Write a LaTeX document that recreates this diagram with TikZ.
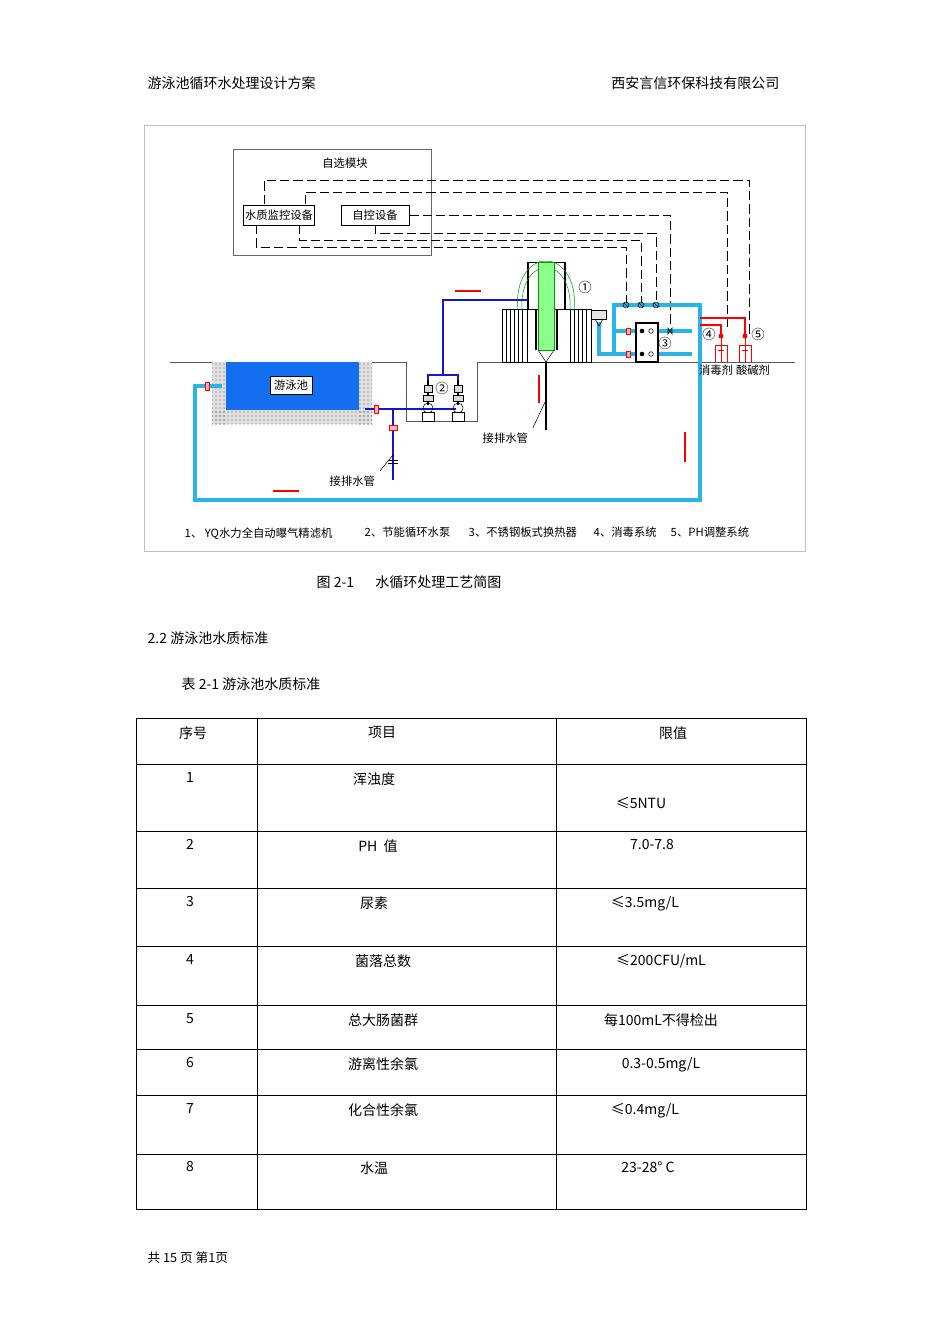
\documentclass[tikz,border=0pt]{standalone}
\usepackage{fontspec}
\setmainfont{Noto Sans CJK SC}
\usetikzlibrary{patterns}
\definecolor{cyanp}{RGB}{40,180,230}
\definecolor{navy}{RGB}{20,20,200}
\definecolor{pblue}{RGB}{20,110,240}
\begin{document}
\begin{tikzpicture}[x=0.75pt,y=-0.75pt,
  dsh/.style={dash pattern=on 7pt off 3pt, line width=0.6pt},
  cp/.style={cyanp, line width=2.6pt},
  np/.style={navy, line width=2pt},
  ra/.style={red, line width=0.8pt},
  sm/.style={font=\fontsize{8.5}{9}\selectfont},
  pg/.style={font=\fontsize{10.5}{12}\selectfont},
  tb/.style={font=\fontsize{10.5}{12}\selectfont, anchor=north}]
\useasboundingbox (0,0) rectangle (950,1344);
\fill[white] (0,0) rectangle (950,1344);
% header
\node[pg,anchor=west] (h1) at (143,83) {游泳池循环水处理设计方案};
\node[pg,anchor=east] (h2) at (784,83) {西安言信环保科技有限公司};
% frame
\draw[gray!50] (144,125) rectangle (805,551);
% control boxes
\draw[gray!80!black] (233,149) rectangle (431,255);
\node[sm] (zx) at (345,163) {自选模块};
\node[draw,sm,inner sep=1pt,minimum width=53pt,minimum height=15pt] (wq) at (279,215) {水质监控设备};
\node[draw,sm,inner sep=1pt,minimum width=51pt,minimum height=15pt] (zk) at (375,215) {自控设备};
% dashed control lines
\draw[dsh] (264,204) -- (264,180) -- (749,180) -- (749,335);
\draw[dsh] (305,204) -- (305,192) -- (727,192) -- (727,330);
\draw[dsh] (zk.east) -- (670,215) -- (670,327);
\draw[dsh] (375,225) -- (375,233) -- (656,233) -- (656,303);
\draw[dsh] (299,225) -- (299,240) -- (641,240) -- (641,303);
\draw[dsh] (256,225) -- (256,247) -- (626,247) -- (626,303);
% ground line and pit
\draw[gray!70!black,line width=0.7pt] (170,362) -- (406,362) -- (406,421) -- (477,421) -- (477,362) -- (795,362);
% pool
\fill[gray!25] (212,362) rectangle (226,424);
\fill[gray!25] (359,362) rectangle (372,424);
\fill[gray!25] (212,410) rectangle (372,424);
\fill[pattern=dots,pattern color=gray!70!black] (212,362) rectangle (226,424);
\fill[pattern=dots,pattern color=gray!70!black] (359,362) rectangle (372,424);
\fill[pattern=dots,pattern color=gray!70!black] (212,410) rectangle (372,424);
\fill[pblue] (226,362) rectangle (359,410);
\node[draw,fill=white,sm,inner sep=3pt] (pool) at (291,385) {游泳池};
% cyan return loop
\draw[cp] (222,386) -- (195,386) -- (195,500) -- (700,500) -- (700,305) -- (614,305) -- (614,354);
\draw[cp] (599,322) -- (599,354) -- (636,354);
\draw[cp] (614,331) -- (636,331);
\draw[cp] (658,331) -- (692,331);
\draw[cp] (658,354) -- (692,354);
\draw[red,fill=red!30] (205,382) rectangle (209,390);
% heat exchanger
\draw[line width=0.8pt] (636,323) rectangle (658,362);
\foreach \yy in {331,354}{\fill[black] (642,\yy) circle (2.3); \draw (651,\yy) circle (2.3); \draw[red,fill=red!30] (626,\yy-3) rectangle (630,\yy+3);}
\foreach \xx in {626,641,656}{\draw (\xx,305) circle (3); \draw (\xx-2,303)--(\xx+2,307);}
\draw (668,328)--(672,334)--(672,328)--(668,334)--cycle;
\node[font=\fontsize{10}{10}\selectfont] (n3) at (665,343) {③};
% filter
\fill[white] (502,309) rectangle (591,362);
\draw (502,309) rectangle (591,362);
\foreach \xx in {506,510,514,518,522,527,570,574,578,582,586}{\draw[line width=0.4pt] (\xx,309)--(\xx,362);}
\draw[fill=gray!20] (591,310) rectangle (606,319);
\draw (595,319)--(599,326)--(603,319);
\draw[line width=1.8pt] (528,262) -- (528,309);
\draw[line width=1.8pt] (565,262) -- (565,309);
\draw (528,262) -- (565,262);
\draw[green!60!black] (518,310) .. controls (514,270) and (540,258) .. (546,262) .. controls (552,258) and (578,270) .. (574,310);
\draw[green!60!black] (522,310) .. controls (520,275) and (540,266) .. (546,268) .. controls (552,266) and (572,275) .. (570,310);
\fill[green!45] (538,262) rectangle (554,350);
\draw[green!60!black] (538,262) rectangle (554,350);
\draw[line width=1pt] (536,309) -- (536,350); \draw[line width=1pt] (557,309) -- (557,350);
\draw (538,350) -- (546,362) -- (554,350);
\node[font=\fontsize{10}{10}\selectfont] (n1) at (585,287) {①};
% drain from filter
\draw[line width=0.8pt] (546,362) -- (546,430);
\node[sm,anchor=west] (dr1) at (478,438) {接排水管};
\draw (dr1.north east) -- (546,400);
% navy pipes and pumps
\draw[np] (365,409) -- (456,409);
\draw[np] (393,409) -- (393,480);
\draw[red,fill=red!30] (374,405) rectangle (378,413);
\draw[red,fill=red!30] (389,425) rectangle (397,430);
\draw (388,460) -- (398,460); \draw (388,463) -- (398,463);
\draw[np] (428,383) -- (428,375) -- (458,375) -- (458,383);
\draw[np] (443,375) -- (443,300) -- (528,300);
\foreach \xx in {428,458}{
  \draw[line width=0.8pt] (\xx,380) -- (\xx,405);
  \draw[fill=gray!30] (\xx-4,385) rectangle (\xx+4,392);
  \draw[fill=gray!30] (\xx-5,395) rectangle (\xx+5,401);
  \draw (\xx,408) circle (5);
  \draw[fill=white] (\xx-6,412) rectangle (\xx+6,421);}
\node[font=\fontsize{10}{10}\selectfont] (n2) at (442,388) {②};
\node[sm,anchor=west] (dr2) at (325,481) {接排水管};
\draw (dr2.north east) -- (393,455);
% red arrows
\draw[ra] (455,291) -- (481,291);
\draw[ra] (539,375) -- (539,403);
\draw[ra] (685,432) -- (685,462);
\draw[ra] (273,491) -- (299,491);
% dosing
\draw[ra] (700,318) -- (745,318) -- (745,335);
\draw[ra] (700,325) -- (721,325) -- (721,335);
\foreach \xx in {721,745}{
  \fill[red] (\xx,336) circle (2.5);
  \draw[ra,line width=0.5pt] (\xx,336) -- (\xx,362);
  \draw[ra,line width=0.5pt] (\xx-6,345) -- (\xx+6,345);
  \draw[ra,line width=0.5pt] (\xx-6,345) -- (\xx-6,362); \draw[ra,line width=0.5pt] (\xx+6,345) -- (\xx+6,362);
  \draw[ra,line width=0.5pt] (\xx-3,350) -- (\xx+3,350);}
\node[font=\fontsize{10}{10}\selectfont] (n4) at (709,334) {④};
\node[font=\fontsize{10}{10}\selectfont] (n5) at (758,334) {⑤};
\node[sm] (xd) at (716,370) {消毒剂};
\node[sm] (sj) at (753,370) {酸碱剂};
% legend
\node[sm,anchor=west] (l1) at (180,534) {1、 YQ水力全自动曝气精滤机};
\node[sm,anchor=west] (l2) at (360,532) {2、节能循环水泵};
\node[sm,anchor=west] (l3) at (464,532) {3、不锈钢板式换热器};
\node[sm,anchor=west] (l4) at (589,532) {4、消毒系统};
\node[sm,anchor=west] (l5) at (666,532) {5、PH调整系统};
% caption and headings
\node[pg,anchor=west] (cap) at (312,582) {图 2-1\quad\; 水循环处理工艺简图};
\node[pg,anchor=west] (s22) at (143,638) {2.2 游泳池水质标准};
\node[pg,anchor=west] (t21) at (177,684) {表 2-1 游泳池水质标准};
% table
\draw[line width=0.7pt] (136,718) rectangle (806,1209);
\draw[line width=0.7pt] (257,718) -- (257,1209);
\draw[line width=0.7pt] (556,718) -- (556,1209);
\foreach \yy in {764,831,888,946,1005,1049,1095,1154}{\draw[line width=0.7pt] (136,\yy) -- (806,\yy);}
\node[tb] (c0a) at (193,722) {序号};
\node[tb] (c0b) at (382,722) {项目};
\node[tb] (c0c) at (673,722) {限值};
\node[tb] (r1a) at (190,768) {1}; \node[tb] (r1b) at (374,768) {浑浊度}; \node[tb] (r1c) at (641,793) {≤5NTU};
\node[tb] (r2a) at (190,835) {2}; \node[tb] (r2b) at (378,835) {PH\ \ 值}; \node[tb] (r2c) at (652,835) {7.0-7.8};
\node[tb] (r3a) at (190,892) {3}; \node[tb] (r3b) at (374,892) {尿素}; \node[tb] (r3c) at (645,892) {≤3.5mg/L};
\node[tb] (r4a) at (190,950) {4}; \node[tb] (r4b) at (383,950) {菌落总数}; \node[tb] (r4c) at (661,950) {≤200CFU/mL};
\node[tb] (r5a) at (190,1009) {5}; \node[tb] (r5b) at (383,1009) {总大肠菌群}; \node[tb] (r5c) at (661,1009) {每100mL不得检出};
\node[tb] (r6a) at (190,1053) {6}; \node[tb] (r6b) at (383,1053) {游离性余氯}; \node[tb] (r6c) at (661,1053) {0.3-0.5mg/L};
\node[tb] (r7a) at (190,1099) {7}; \node[tb] (r7b) at (383,1099) {化合性余氯}; \node[tb] (r7c) at (645,1099) {≤0.4mg/L};
\node[tb] (r8a) at (190,1157) {8}; \node[tb] (r8b) at (374,1157) {水温}; \node[tb] (r8c) at (648,1157) {23-28° C};
% footer
\node[pg,anchor=west,font=\fontsize{9.5}{11}\selectfont] (ft) at (143,1258) {共 15 页 第1页};
\end{tikzpicture}
\end{document}
